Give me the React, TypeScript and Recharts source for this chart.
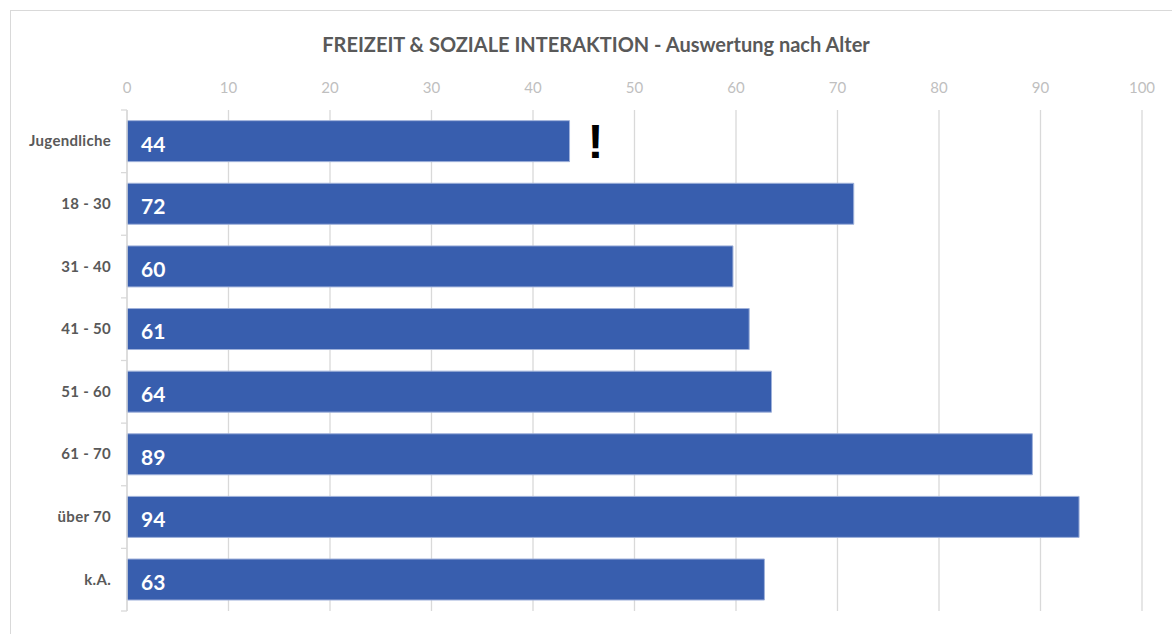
import { BarChart, Bar, XAxis, YAxis, CartesianGrid, LabelList } from "recharts"

const CATEGORIES = ["Jugendliche", "18 - 30", "31 - 40", "41 - 50", "51 - 60", "61 - 70", "über 70", "k.A."]
const VALUES = [43.6, 71.6, 59.7, 61.3, 63.5, 89.2, 93.8, 62.8]
const NOTES = ["!", "", "", "", "", "", "", ""]
const X_TICKS = [0, 10, 20, 30, 40, 50, 60, 70, 80, 90, 100]

const FONT = "Lato, 'Open Sans', sans-serif"
const GRID = "#d9d9d9"

const data = CATEGORIES.map((name, i) => ({ name, value: VALUES[i], note: NOTES[i] }))

// category label plus Excel-style tick marks at the band boundaries
function CategoryTick(props: any) {
  const { x, y, payload, index, visibleTicksCount } = props
  const half = payload.offset || 0
  const axisX = x + 16
  return (
    <g>
      <text
        x={x}
        y={y}
        dy={5}
        textAnchor="end"
        fill="#595959"
        fontSize={15}
        fontWeight={700}
        fontFamily={FONT}
        letterSpacing={0.3}
      >
        {payload.value}
      </text>
      <line x1={axisX - 6} x2={axisX} y1={y - half} y2={y - half} stroke={GRID} strokeWidth={1.3} />
      {index === visibleTicksCount - 1 && (
        <line x1={axisX - 6} x2={axisX} y1={y + half} y2={y + half} stroke={GRID} strokeWidth={1.3} />
      )}
    </g>
  )
}

export default function App() {
  return (
    <div
      style={{
        position: "absolute",
        left: 0,
        top: 0,
        width: 1172,
        height: 634,
        overflow: "hidden",
        background: "#fff",
        fontFamily: FONT,
      }}
    >
      <div
        style={{
          position: "absolute",
          left: 10,
          top: 10,
          width: 1300,
          height: 800,
          border: "1px solid #d9d9d9",
        }}
      />
      <div
        style={{
          position: "absolute",
          left: 10,
          top: 32,
          width: 1172,
          textAlign: "center",
          fontSize: 20,
          fontWeight: 700,
          color: "#595959",
        }}
      >
        FREIZEIT &amp; SOZIALE INTERAKTION - Auswertung nach Alter
      </div>
      <div style={{ position: "absolute", left: 0, top: 0 }}>
        <BarChart
          width={1172}
          height={634}
          data={data}
          layout="vertical"
          margin={{ top: 80, right: 30, bottom: 23, left: 16 }}
          barCategoryGap="17%"
        >
          <CartesianGrid horizontal={false} stroke={GRID} strokeWidth={1.3} />
          <XAxis
            type="number"
            orientation="top"
            domain={[0, 100]}
            ticks={X_TICKS}
            height={30}
            axisLine={false}
            tickLine={false}
            tickMargin={11}
            tick={{ fill: "#bfbfbf", fontSize: 15, fontFamily: FONT }}
          />
          <YAxis
            type="category"
            dataKey="name"
            width={111}
            axisLine={{ stroke: GRID, strokeWidth: 1.3 }}
            tickLine={false}
            tickSize={6}
            tickMargin={10}
            tick={<CategoryTick />}
          />
          <Bar
            dataKey="value"
            fill="#385eae"
            stroke="#9fb1da"
            strokeWidth={1}
            isAnimationActive={false}
          >
            <LabelList
              dataKey="value"
              position="insideLeft"
              offset={14}
              dy={3}
              formatter={(v: number) => Math.round(v)}
              fill="#ffffff"
              fontSize={21}
              fontWeight={700}
              fontFamily={FONT}
            />
            <LabelList
              dataKey="note"
              position="right"
              offset={18}
              fill="#000000"
              fontSize={48}
              fontWeight={700}
              fontFamily="'Liberation Sans', Arial, sans-serif"
            />
          </Bar>
        </BarChart>
      </div>
    </div>
  )
}
